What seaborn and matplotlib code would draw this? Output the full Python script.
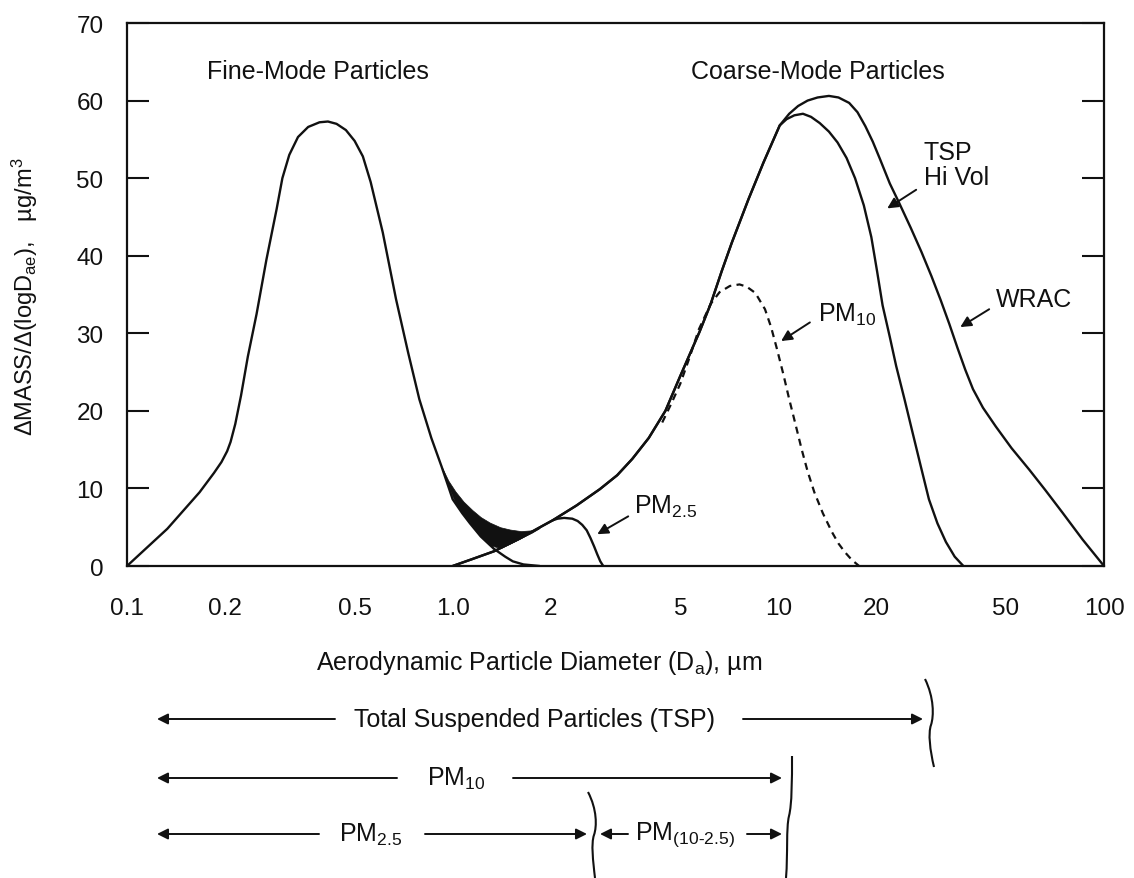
import matplotlib
matplotlib.use("Agg")
import numpy as np
import pandas as pd
import matplotlib.pyplot as plt
import seaborn as sns
from matplotlib.path import Path
from matplotlib.patches import PathPatch, FancyArrowPatch
from matplotlib.ticker import NullFormatter

# ==============================
# Curve data (diameter in um, mass in ug/m3)
# ==============================
fine_d = [0.10, 0.133, 0.167, 0.185, 0.195, 0.203, 0.208, 0.215, 0.224, 0.235, 0.25, 0.268, 0.288,
          0.30, 0.315, 0.335, 0.36, 0.39, 0.414, 0.44, 0.47, 0.50, 0.53, 0.56, 0.61, 0.67, 0.73,
          0.79, 0.86, 0.925, 1.0, 1.07, 1.13, 1.22, 1.34, 1.45, 1.53, 1.65, 1.85]
fine_m = [0, 4.8, 9.5, 12.0, 13.4, 14.8, 16.0, 18.3, 22.0, 27.0, 32.5, 39.5, 46.0,
          50.0, 53.0, 55.3, 56.6, 57.2, 57.3, 57.0, 56.2, 54.8, 52.8, 49.5, 43.0, 34.4, 27.5,
          21.5, 16.5, 12.8, 8.6, 6.8, 5.5, 3.8, 2.2, 1.2, 0.6, 0.2, 0]

coarse_d = [1.0, 1.15, 1.34, 1.6, 1.8, 2.03, 2.4, 2.83, 3.2, 3.56, 4.0, 4.5, 5.0, 5.73, 6.2,
            6.7, 7.2, 8.1, 9.0, 10.1]
coarse_m = [0, 0.9, 1.9, 3.5, 4.7, 5.9, 7.8, 9.9, 11.7, 13.8, 16.5, 20.0, 24.5, 30.2, 33.8,
            38.0, 41.7, 47.3, 52.0, 56.8]

hivol_d = [10.6, 11.2, 11.9, 12.6, 13.4, 14.3, 15.2, 16.2, 17.2, 18.3, 19.3, 20.1, 20.9, 22.0,
           23.0, 24.4, 25.8, 27.4, 29.0, 30.8, 32.7, 34.8, 37.0]
hivol_m = [57.6, 58.1, 58.3, 57.9, 57.1, 56.0, 54.6, 52.6, 50.0, 46.5, 42.4, 38.0, 33.6, 29.5,
           25.8, 21.5, 17.3, 12.8, 8.6, 5.5, 3.1, 1.2, 0]

wrac_d = [10.8, 11.5, 12.3, 13.2, 14.3, 15.3, 16.5, 17.5, 18.5, 19.5, 20.5, 22.0, 23.5, 25.5,
          27.5, 29.5, 31.5, 33.5, 35.5, 37.5, 39.6, 42.5, 46.5, 52.0, 59.0, 66.0, 74.5, 86.0, 100.0]
wrac_m = [58.3, 59.3, 60.0, 60.4, 60.6, 60.4, 59.7, 58.5, 56.7, 54.7, 52.5, 49.3, 46.8, 43.6,
          40.5, 37.4, 34.3, 31.2, 28.1, 25.3, 22.8, 20.4, 18.0, 15.2, 12.4, 9.8, 6.9, 3.4, 0]

pm10_d = [4.4, 4.7, 5.0, 5.35, 5.7, 6.2, 6.6, 7.1, 7.6, 8.0, 8.5, 9.1, 9.5, 9.9, 10.35, 10.8,
          11.3, 11.8, 12.3, 12.9, 13.7, 14.6, 15.3, 16.0, 16.8, 17.7]
pm10_m = [18.5, 21.0, 23.5, 27.0, 30.5, 33.8, 35.3, 36.1, 36.3, 36.0, 35.2, 33.1, 30.8, 28.0,
          24.8, 21.5, 18.2, 15.0, 12.2, 9.5, 6.8, 4.4, 2.9, 1.8, 0.8, 0]

pm25_d = [2.03, 2.1, 2.2, 2.33, 2.42, 2.5, 2.58, 2.65, 2.72, 2.78, 2.84, 2.9]
pm25_m = [5.9, 6.1, 6.2, 6.1, 5.8, 5.3, 4.6, 3.6, 2.5, 1.5, 0.6, 0]

# overlap of fine and coarse modes (black area)
shade_d = [0.925, 0.97, 1.02, 1.08, 1.15, 1.22, 1.3, 1.4, 1.5, 1.62, 1.75, 1.85]
shade_top = [12.8, 11.0, 9.6, 8.3, 7.2, 6.3, 5.6, 5.0, 4.7, 4.5, 4.6, 4.9]
shade_bottom = [12.8, 10.3, 8.1, 6.6, 5.2, 3.9, 2.7, 2.3, 2.9, 3.6, 4.3, 4.9]

major_ticks = [0.1, 0.2, 0.5, 1, 2, 5, 10, 15, 20, 50, 100]
major_labels = ["0.1", "0.2", "0.5", "1.0", "2", "5", "10", "", "20", "50", "100"]
minor_ticks = [0.3, 0.4, 0.6, 0.7, 0.8, 0.9, 3, 4, 6, 7, 8, 9, 30, 40, 60, 70, 80, 90]
y_ticks = [0, 10, 20, 30, 40, 50, 60, 70]

# ==============================
# Build tables
# ==============================
fine = pd.DataFrame({"d": fine_d, "mass": fine_m})
tsp_hivol = pd.DataFrame({"d": coarse_d + hivol_d, "mass": coarse_m + hivol_m})
wrac = pd.DataFrame({"d": coarse_d + wrac_d, "mass": coarse_m + wrac_m})
pm10 = pd.DataFrame({"d": pm10_d, "mass": pm10_m})
pm25 = pd.DataFrame({"d": pm25_d, "mass": pm25_m})

# ==============================
# Figure
# ==============================
sns.set_theme(style="white")
plt.rcParams["font.family"] = ["Liberation Sans", "DejaVu Sans"]
plt.rcParams["mathtext.default"] = "regular"

W, H = 1134, 879
fig = plt.figure(figsize=(W / 100, H / 100), dpi=100)
ax = fig.add_axes([127 / W, 1 - 567 / H, (1104 - 127) / W, (567 - 24) / H])
ax.set_xscale("log")

ink = "#111111"
lw = 1.7
for df in (fine, tsp_hivol, wrac, pm25):
    sns.lineplot(data=df, x="d", y="mass", color=ink, linewidth=lw, estimator=None,
                 ax=ax, legend=False)
sns.lineplot(data=pm10, x="d", y="mass", color=ink, linewidth=1.6, estimator=None,
             ax=ax, legend=False)
ax.lines[-1].set_dashes([3.2, 2.4])

ax.fill_between(shade_d, shade_bottom, shade_top, color=ink, linewidth=0.5)

ax.set_xlim(0.1, 100)
ax.set_ylim(0, 70)

for s in ax.spines.values():
    s.set_linewidth(1.6)
    s.set_color(ink)

ax.set_xticks(major_ticks, major_labels)
ax.set_xticks(minor_ticks, minor=True)
ax.xaxis.set_minor_formatter(NullFormatter())
ax.set_yticks(y_ticks)
ax.tick_params(axis="x", which="major", direction="in", length=15, width=1.5,
               pad=22, labelsize=17.5, colors=ink, top=False)
ax.tick_params(axis="x", which="minor", direction="in", length=11.5, width=1.5,
               top=False, colors=ink)
ax.tick_params(axis="y", which="major", direction="in", length=16, width=1.5,
               pad=17, labelsize=17.5, left=True, right=True, colors=ink)

ax.set_xlabel("Aerodynamic Particle Diameter (D$_a$), \u00b5m", fontsize=18, color=ink)
ax.xaxis.set_label_coords((539 - 127) / 977, -(649 - 567) / 543)
ax.set_ylabel("\u0394MASS/\u0394(logD$_{ae}$),   \u00b5g/m$^3$", fontsize=17, color=ink)
ax.yaxis.set_label_coords(-(127 - 40) / 977, (567 - 297) / 543)

# ==============================
# Labels inside the plot
# ==============================
fs = 18
ax.text(0.176, 63.8, "Fine-Mode Particles", fontsize=fs, va="center", color=ink)
ax.text(5.4, 63.8, "Coarse-Mode Particles", fontsize=fs, va="center", color=ink)

arrow = dict(arrowstyle="-|>", color=ink, lw=1.4, mutation_scale=16, shrinkA=0, shrinkB=0)
ax.annotate("", xy=(21.6, 46.1), xytext=(26.5, 48.5), arrowprops=arrow)
ax.text(28, 51.8, "TSP\nHi Vol", fontsize=fs, va="center", ha="left", color=ink,
        linespacing=1.05)
ax.annotate("", xy=(36.2, 30.8), xytext=(44.4, 33.1), arrowprops=arrow)
ax.text(46.6, 34.4, "WRAC", fontsize=fs, va="center", color=ink)
ax.annotate("", xy=(10.2, 29.0), xytext=(12.5, 31.4), arrowprops=arrow)
ax.text(13.2, 32.5, "PM$_{10}$", fontsize=fs, va="center", color=ink)
ax.annotate("", xy=(2.78, 4.1), xytext=(3.46, 6.4), arrowprops=arrow)
ax.text(3.61, 7.7, "PM$_{2.5}$", fontsize=fs, va="center", color=ink)

# ==============================
# Size-range brackets under the axis (figure pixels, y from top)
# ==============================
def fp(px, py):
    return (px / W, 1 - py / H)

def span_arrow(x0, x1, y):
    fig.add_artist(FancyArrowPatch(
        fp(x0, y), fp(x1, y), transform=fig.transFigure, arrowstyle="-|>",
        mutation_scale=16, lw=1.4, color=ink, shrinkA=0, shrinkB=0))

def brace(top, mid, bot):
    (xt, yt), (xm, ym), (xb, yb) = top, mid, bot
    pts = [(xt, yt), (xm + 3, yt + (ym - yt) * 0.4), (xm + 3, ym - (ym - yt) * 0.2), (xm, ym),
           (xm - 3, ym + (yb - ym) * 0.2), (xm - 1, yb - (yb - ym) * 0.4), (xb, yb)]
    verts = [fp(x, y) for x, y in pts]
    codes = [Path.MOVETO] + [Path.CURVE4] * 6
    fig.add_artist(PathPatch(Path(verts, codes), transform=fig.transFigure,
                             fill=False, lw=1.5, color=ink))

row1, row2, row3 = 720, 779, 835
span_arrow(335, 157, row1)
fig.text(*fp(354, row1), "Total Suspended Particles (TSP)", fontsize=fs, va="center", color=ink)
span_arrow(743, 923, row1)
brace((925, 680), (931, 726), (934, 768))

span_arrow(397, 157, row2)
fig.text(*fp(427, row2), "PM$_{10}$", fontsize=fs, va="center", color=ink)
span_arrow(513, 782, row2)
brace((792, 757), (789, 817), (786, 879))

span_arrow(319, 157, row3)
fig.text(*fp(339, row3), "PM$_{2.5}$", fontsize=fs, va="center", color=ink)
span_arrow(425, 587, row3)
brace((588, 793), (594, 836), (595, 879))
span_arrow(628, 600, row3)
fig.text(*fp(635, row3), "PM$_{(10\u20112.5)}$", fontsize=fs, va="center", color=ink)
span_arrow(747, 782, row3)

fig.savefig("out.png", dpi=100, facecolor="white")
